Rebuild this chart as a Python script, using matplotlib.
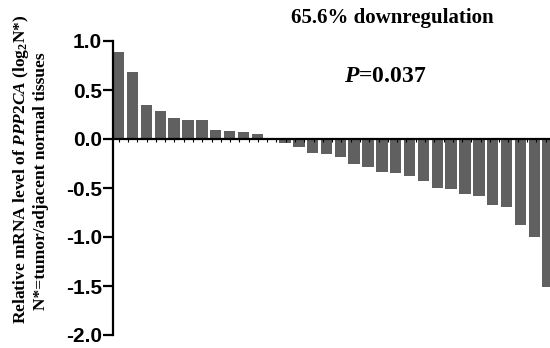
import matplotlib
matplotlib.use('Agg')
import matplotlib.pyplot as plt
import numpy as np
from matplotlib.ticker import MultipleLocator

# log2(tumor/normal) per sample, sorted
sample_idx = list(range(32))
log2_ratio = [0.885, 0.68, 0.35, 0.29, 0.215, 0.195, 0.19, 0.095, 0.085, 0.075, 0.055,
              -0.015, -0.04, -0.08, -0.14, -0.15, -0.18, -0.255, -0.29, -0.34, -0.35,
              -0.38, -0.43, -0.50, -0.51, -0.56, -0.585, -0.67, -0.69, -0.88, -1.00, -1.51]
y_ticks = [1.0, 0.5, 0.0, -0.5, -1.0, -1.5, -2.0]
title_txt = '65.6% downregulation'
p_txt = r'$\mathit{P}$=0.037'
ylab1 = r'Relative mRNA level of $\mathit{PPP2CA}$ (log$_\mathbf{2}$N*)'
ylab2 = 'N*=tumor/adjacent normal tissues'

plt.rcParams['mathtext.fontset'] = 'custom'
plt.rcParams['mathtext.rm'] = 'Liberation Serif:bold'
plt.rcParams['mathtext.it'] = 'Liberation Serif:bold:italic'
plt.rcParams['mathtext.bf'] = 'Liberation Serif:bold'

fig = plt.figure(figsize=(5.5, 3.48), dpi=100)
ax = fig.add_axes([113/550, 1-335/348, 437/550, (335-41)/348])

bar_w = 0.83
ax.bar(sample_idx, log2_ratio, width=bar_w, color='#606060', zorder=1)

ax.set_xlim(-bar_w/2, -bar_w/2 + 437/13.85)
ax.set_ylim(-2.0, 1.0)
ax.set_yticks(y_ticks)
ax.set_yticklabels(['%.1f' % v for v in y_ticks], family='Liberation Sans',
                   fontweight='bold', fontsize=15)

ax.spines['top'].set_visible(False)
ax.spines['right'].set_visible(False)
ax.spines['bottom'].set_position(('data', 0))
ax.spines['left'].set_linewidth(1.6)
ax.spines['bottom'].set_linewidth(1.6)
ax.spines['bottom'].set_zorder(3)

ax.xaxis.set_major_locator(MultipleLocator(0.67))
ax.tick_params(axis='x', direction='out', length=2.5, width=0.8, labelbottom=False)
ax.tick_params(axis='y', direction='out', length=7, width=1.6, pad=1)

fig.text(392/550, 1-23/348, title_txt, family='Liberation Serif', fontweight='bold',
         fontsize=15, ha='center', va='baseline')
fig.text(385/550, 1-82/348, p_txt, family='Liberation Serif', fontweight='bold',
         fontsize=17, ha='center', va='baseline')
fig.text(21/550, 1-169/348, ylab1, family='Liberation Serif', fontweight='bold',
         fontsize=12.5, rotation=90, ha='center', va='center')
fig.text(41/550, 1-181/348, ylab2, family='Liberation Serif', fontweight='bold',
         fontsize=12.5, rotation=90, ha='center', va='center')

fig.savefig('out.png', dpi=100)
